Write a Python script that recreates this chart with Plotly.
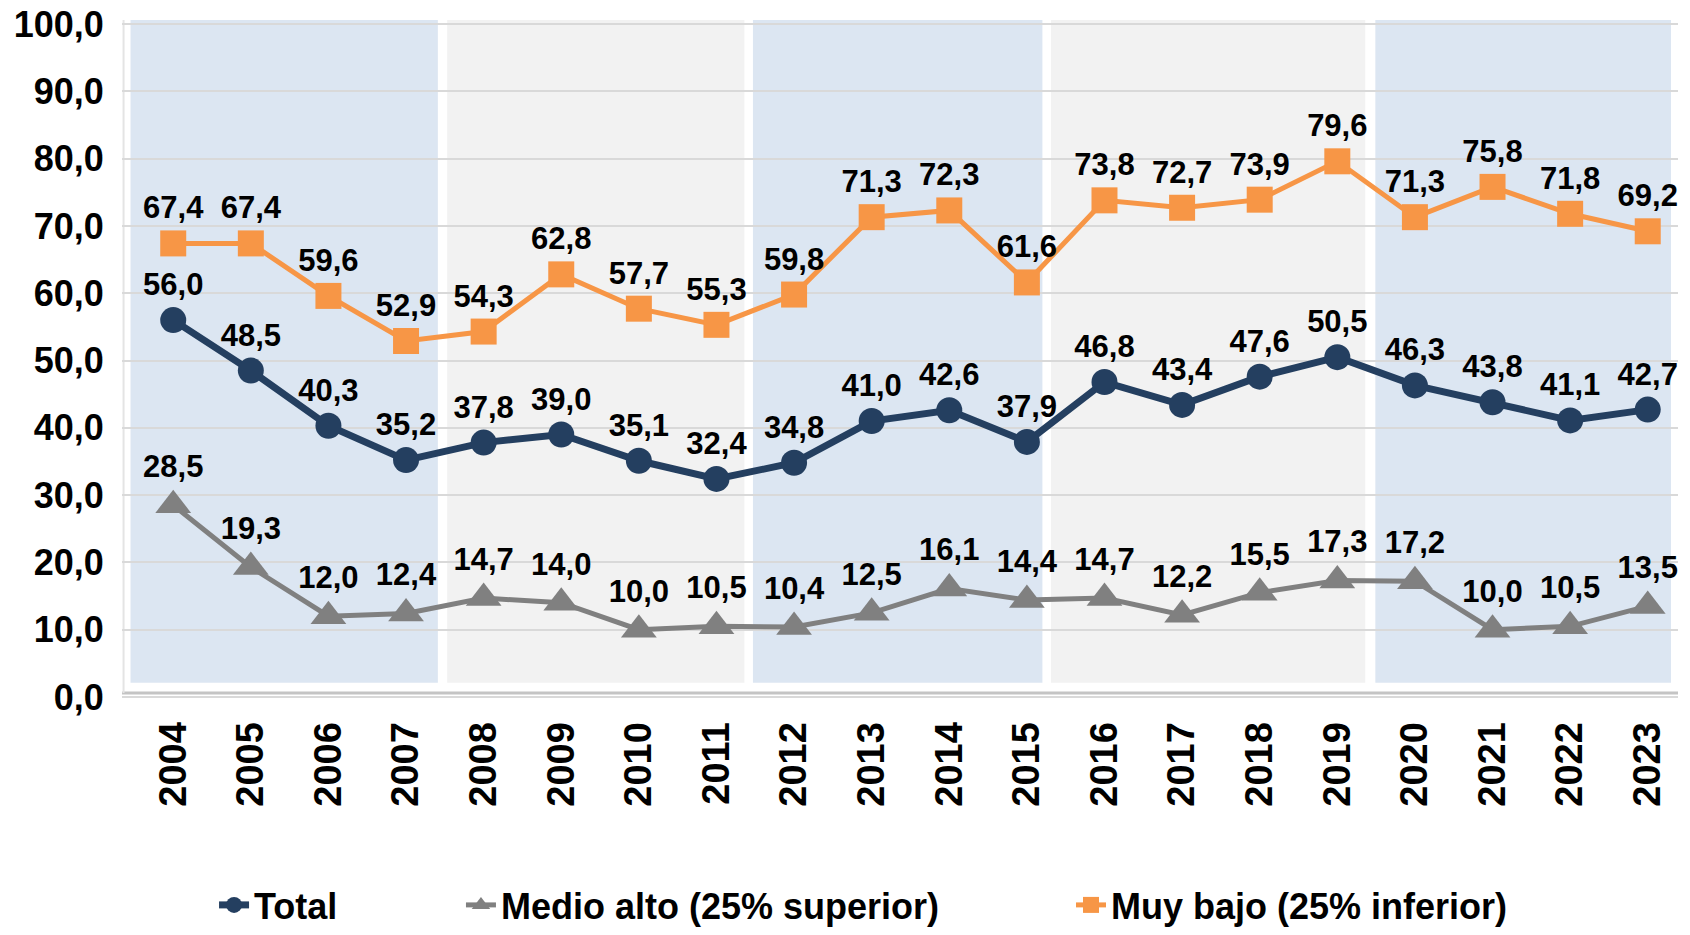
import plotly.graph_objects as go

years = list(range(2004, 2024))
total = [56.0, 48.5, 40.3, 35.2, 37.8, 39.0, 35.1, 32.4, 34.8, 41.0,
         42.6, 37.9, 46.8, 43.4, 47.6, 50.5, 46.3, 43.8, 41.1, 42.7]
medio_alto = [28.5, 19.3, 12.0, 12.4, 14.7, 14.0, 10.0, 10.5, 10.4, 12.5,
              16.1, 14.4, 14.7, 12.2, 15.5, 17.3, 17.2, 10.0, 10.5, 13.5]
muy_bajo = [67.4, 67.4, 59.6, 52.9, 54.3, 62.8, 57.7, 55.3, 59.8, 71.3,
            72.3, 61.6, 73.8, 72.7, 73.9, 79.6, 71.3, 75.8, 71.8, 69.2]
y_ticks = [0, 10, 20, 30, 40, 50, 60, 70, 80, 90, 100]

FONT = "Liberation Sans, Arial, sans-serif"
label_font = dict(family=FONT, size=31, color="black", weight="bold")

fig = go.Figure()

# alternating background bands (4 years each)
bands = [(2003.45, 2007.41, "#DCE6F2"), (2007.53, 2011.36, "#F2F2F2"),
         (2011.47, 2015.20, "#DCE6F2"), (2015.31, 2019.36, "#F2F2F2"),
         (2019.49, 2023.30, "#DCE6F2")]
for x0, x1, col in bands:
    fig.add_shape(type="rect", xref="x", yref="y", x0=x0, x1=x1, y0=2.1, y1=100.6,
                  fillcolor=col, line_width=0, layer="below")
# frame shadow
fig.add_shape(type="line", xref="x", yref="y", x0=2003.34, x1=2023.39, y0=0.6, y1=0.6,
              line=dict(color="#C4C4C4", width=3), layer="below")
fig.add_shape(type="line", xref="x", yref="y", x0=2003.36, x1=2003.36, y0=0.6, y1=100.6,
              line=dict(color="#E4E4E4", width=2), layer="below")

fig.add_trace(go.Scatter(
    x=years, y=muy_bajo, name="Muy bajo (25% inferior)", mode="lines+markers+text",
    line=dict(color="#F79646", width=5),
    marker=dict(symbol="square", size=26, color="#F79646"),
    texttemplate="%{y:.1f}", textposition="top center", textfont=label_font,
    cliponaxis=False, legend="legend3"))

fig.add_trace(go.Scatter(
    x=years, y=medio_alto, name="Medio alto (25% superior)", mode="lines+markers+text",
    line=dict(color="#808080", width=5),
    marker=dict(symbol="triangle-up", size=31, color="#808080"),
    texttemplate="%{y:.1f}", textposition="top center", textfont=label_font,
    cliponaxis=False, legend="legend2"))

fig.add_trace(go.Scatter(
    x=years, y=total, name="Total", mode="lines+markers+text",
    line=dict(color="#243F60", width=7),
    marker=dict(symbol="circle", size=26, color="#243F60"),
    texttemplate="%{y:.1f}", textposition="top center", textfont=label_font,
    cliponaxis=False, legend="legend"))

leg_font = dict(family=FONT, size=36, color="black", weight="bold")
leg_common = dict(xref="container", yref="container", y=0.0, xanchor="left",
                  yanchor="bottom", font=leg_font, bgcolor="rgba(0,0,0,0)")
fig.update_layout(
    width=1682, height=927,
    margin=dict(l=114, r=12, t=12, b=234, autoexpand=False),
    paper_bgcolor="white", plot_bgcolor="white",
    separators=",.",
    showlegend=True,
    font=dict(family=FONT, color="black"),
    legend=dict(x=0.1225, **leg_common),
    legend2=dict(x=0.2693, **leg_common),
    legend3=dict(x=0.632, **leg_common),
    xaxis=dict(range=[2003.34, 2023.39], tickvals=years, ticktext=[str(y) for y in years],
               tickangle=-90, tickfont=dict(family=FONT, size=38, color="black", weight="bold"),
               showgrid=False, zeroline=False, showline=False, automargin=False,
               ticklabeloverflow="allow",
               ticks="outside", ticklen=5, tickcolor="rgba(0,0,0,0)"),
    yaxis=dict(range=[-0.6, 100.6], tickvals=y_ticks, tickformat=".1f",
               tickfont=dict(family=FONT, size=36, color="black", weight="bold"),
               showgrid=True, gridcolor="#D9D9D9", gridwidth=2, zeroline=False,
               showline=False, automargin=False, ticklabeloverflow="allow",
               ticks="outside", ticklen=10, tickcolor="rgba(0,0,0,0)"),
)

fig.write_html("out.html")
